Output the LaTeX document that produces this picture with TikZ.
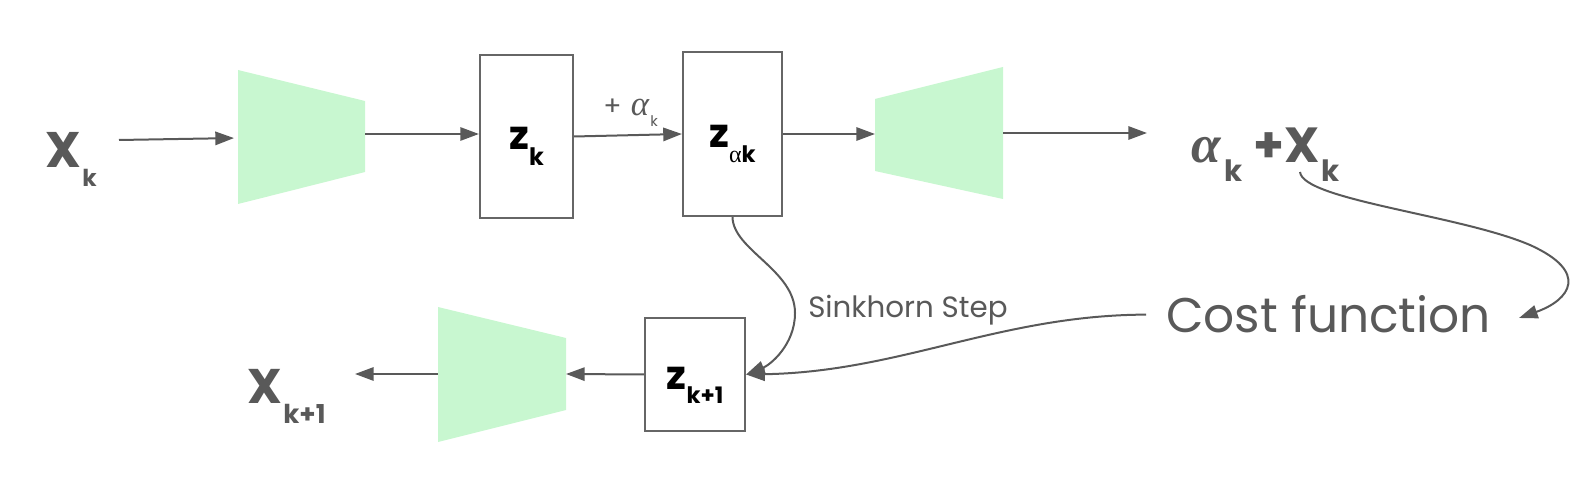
\documentclass[tikz,border=0pt]{standalone}
\usepackage{fontspec}
\setmainfont{Poppins}
\newfontfamily\gr{Liberation Serif}
\usetikzlibrary{arrows.meta}
\definecolor{txtgray}{HTML}{595959}
\definecolor{boxgray}{HTML}{666666}
\definecolor{trapgreen}{HTML}{C8F7D0}
\newcommand{\fs}[1]{\fontsize{#1}{#1}\selectfont}
\begin{document}
\begin{tikzpicture}[x=0.75pt,y=-0.75pt,
  txt/.style={inner sep=0pt, text=txtgray},
  arr/.style={draw=txtgray, line width=1.5pt, -{Triangle[length=14pt,width=10pt]}},
  blk/.style={draw=boxgray, line width=1.6pt, fill=white, inner sep=0pt, text=black},
  trap/.style={fill=trapgreen}]
\useasboundingbox (0,0) rectangle (1595,484);

% ---------- text nodes ----------
\node[txt, anchor=base west] (xk) at (45,168)
  {\fs{37.5pt}\bfseries X\hspace{1pt}\raisebox{-14pt}{\fs{17.5pt}k}};
\node[txt, anchor=base west] (xk1) at (247,403)
  {\fs{36.5pt}\bfseries X\hspace{1pt}\raisebox{-15pt}{\fs{19.5pt}k+1}};
\node[txt, anchor=base west] (out) at (1191,163)
  {{\gr\bfseries\itshape\fs{40pt}α}\hspace{3pt}\raisebox{-14pt}{\fs{22pt}\bfseries k}\hspace{8pt}{\fs{37pt}\bfseries +X}\hspace{1pt}\raisebox{-14pt}{\fs{22pt}\bfseries k}};
\node[txt, anchor=base west, inner xsep=15pt] (cost) at (1146,333)
  {\fs{36.5pt}Cost function};
\node[txt, anchor=base west] (sink) at (808,318) {\fs{22pt}Sinkhorn Step};
\node[txt, anchor=base west] (plus) at (603,116)
  {\fs{20pt}+\hspace{7pt}{\gr\itshape\fs{26pt}α}\hspace{1pt}\raisebox{-8pt}{\fs{11pt}k}};

% ---------- boxes ----------
\node[blk, minimum width=69.75pt, minimum height=122.25pt,
      text height=20.25pt, text depth=0pt] (zk) at (526.5,136.5)
  {{\fs{30pt}\bfseries z}\raisebox{-12pt}{\fs{18pt}\bfseries k}};
\node[blk, minimum width=74.25pt, minimum height=123pt,
      text height=21pt, text depth=0pt] (zak) at (732.5,134)
  {{\fs{30pt}\bfseries z}\raisebox{-11.25pt}{{\gr\fs{18pt}α}{\fs{17pt}\bfseries k}}};
\node[blk, minimum width=75pt, minimum height=84.75pt,
      text height=21.75pt, text depth=0pt] (zk1) at (695,374.5)
  {{\fs{30pt}\bfseries z}\raisebox{-11pt}{\fs{17pt}\bfseries k+1}};

% ---------- trapezoids ----------
\fill[trap] (238,70) -- (365,101) -- (365,172) -- (238,204) -- cycle;
\coordinate (t1w) at (238,138);
\coordinate (t1e) at (365,134);
\fill[trap] (875,99) -- (1003,67) -- (1003,199) -- (875,171) -- cycle;
\coordinate (t2w) at (875,134);
\coordinate (t2e) at (1003,133);
\fill[trap] (438,307) -- (566,338) -- (566,410) -- (438,442) -- cycle;
\coordinate (t3w) at (438,374);
\coordinate (t3e) at (566,374);

% ---------- free ends ----------
\coordinate (xkE) at (119,140);
\coordinate (outW) at (1147,133);
\coordinate (xk1E) at (355,374);
\coordinate (outS) at (1300,172);
\coordinate (costE) at (1519,318);
\coordinate (bend) at (1530,245);
\coordinate (sbend) at (795,313);

% ---------- connectors ----------
\draw[arr, shorten >=3pt] (xkE) -- (t1w);
\draw[arr] (t1e) -- (t1e -| zk.west);
\draw[arr] (zk.east) -- (zak.west);
\draw[arr] (zak.east) -- (t2w);
\draw[arr] (t2e) -- (outW);
\draw[arr] (outS) .. controls (1303,200) and (1460,215) .. (bend)
  .. controls (1590,272) and (1570,300) .. (costE);
\draw[arr] (cost.west) .. controls (1000,315) and (900,372) .. (zk1.east);
\draw[arr] (zak.south) .. controls (733,250) and (795,270) .. (sbend)
  .. controls (795,345) and (770,365) .. (zk1.east);
\draw[arr] (zk1.west) -- (t3e);
\draw[arr] (t3w) -- (xk1E);
\end{tikzpicture}
\end{document}
